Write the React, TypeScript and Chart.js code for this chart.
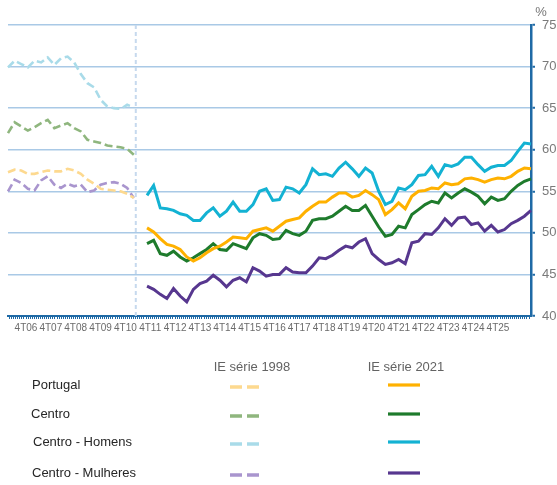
import React, { useEffect, useRef } from 'react';
import { Chart, registerables } from 'chart.js';

Chart.register(...registerables);

// ---------- data ----------
const YEARS = ['06', '07', '08', '09', '10', '11', '12', '13', '14', '15', '16', '17', '18', '19', '20', '21', '22', '23', '24', '25'];
const QUARTERS = YEARS.flatMap((y) => ['1', '2', '3', '4'].map((q) => `${q}T${y}`));
const TICK_LABELS = YEARS.map((y) => `4T${y}`);

const SERIES_NAMES = ['Portugal', 'Centro', 'Centro - Homens', 'Centro - Mulheres'];
const LEGEND_HEADERS = ['IE série 1998', 'IE série 2021'];

// IE série 1998 : 1T06 .. 4T10
const OLD_START = '1T06';
const PT_1998 = [57.3, 57.6, 57.5, 57.1, 57.1, 57.3, 57.5, 57.4, 57.4, 57.7, 57.5, 57.1, 56.4, 55.9, 55.3, 55.2, 55.1, 55.0, 54.7, 54.2];
const CENTRO_1998 = [62.0, 63.3, 62.8, 62.3, 62.7, 63.2, 63.6, 62.6, 62.9, 63.2, 62.6, 62.2, 61.2, 61.0, 60.8, 60.5, 60.4, 60.3, 60.1, 59.4];
const HOMENS_1998 = [69.9, 70.7, 70.3, 69.9, 70.7, 70.5, 71.1, 70.2, 71.0, 71.2, 70.5, 69.1, 68.0, 67.5, 66.0, 65.2, 65.0, 64.9, 65.4, 65.1];
const MULHERES_1998 = [55.0, 56.4, 56.0, 55.3, 55.1, 56.3, 56.8, 55.8, 55.4, 55.9, 55.6, 55.8, 54.9, 55.1, 55.8, 56.0, 56.1, 55.9, 55.4, 54.2];

// IE série 2021 : 2T11 .. 4T25
const NEW_START = '2T11';
const PT_2021 = [50.6, 50.1, 49.3, 48.6, 48.4, 48.0, 47.1, 46.6, 47.0, 47.6, 48.1, 48.4, 48.9, 49.5, 49.4, 49.3, 50.2, 50.4, 50.6, 50.2, 50.8, 51.4, 51.6, 51.8, 52.6, 53.2, 53.7, 53.7, 54.3, 54.8, 54.8, 54.3, 54.5, 55.1, 54.6, 54.0, 52.2, 52.8, 53.6, 52.9, 54.4, 55.0, 55.1, 55.4, 55.3, 56.0, 55.8, 55.9, 56.5, 56.6, 56.4, 56.1, 56.4, 56.6, 56.5, 56.8, 57.4, 57.8, 57.7];
const CENTRO_2021 = [48.7, 49.1, 47.5, 47.3, 47.8, 47.1, 46.6, 47.0, 47.5, 48.0, 48.7, 48.0, 47.9, 48.7, 48.4, 48.1, 49.4, 49.9, 49.7, 49.2, 49.3, 50.3, 49.9, 49.7, 50.2, 51.5, 51.7, 51.7, 52.0, 52.6, 53.2, 52.7, 52.7, 53.3, 52.0, 50.7, 49.6, 49.8, 50.8, 50.6, 52.2, 52.8, 53.4, 53.8, 53.6, 54.8, 54.2, 54.8, 55.3, 54.9, 54.4, 53.5, 54.3, 53.9, 54.1, 55.0, 55.7, 56.2, 56.5];
const HOMENS_2021 = [54.5, 55.7, 53.0, 52.9, 52.7, 52.3, 52.1, 51.5, 51.5, 52.4, 53.0, 52.0, 52.6, 53.7, 52.6, 52.6, 53.4, 55.0, 55.3, 53.9, 54.0, 55.5, 55.3, 54.8, 55.8, 57.7, 57.0, 57.1, 56.8, 57.8, 58.5, 57.7, 56.8, 57.8, 57.2, 55.0, 53.4, 53.8, 55.4, 55.2, 55.8, 56.9, 57.0, 58.0, 56.8, 58.2, 58.0, 58.3, 59.1, 59.1, 58.2, 57.4, 57.9, 58.1, 58.1, 58.7, 59.8, 60.8, 60.7];
const MULHERES_2021 = [43.6, 43.2, 42.6, 42.1, 43.3, 42.4, 41.7, 43.2, 43.9, 44.2, 44.9, 44.3, 43.5, 44.3, 44.6, 44.1, 45.8, 45.4, 44.8, 45.0, 45.0, 45.8, 45.3, 45.2, 45.2, 46.0, 47.0, 46.9, 47.3, 47.9, 48.4, 48.2, 48.9, 49.3, 47.5, 46.8, 46.2, 46.4, 46.8, 46.3, 48.8, 49.0, 49.9, 49.8, 50.6, 51.7, 50.9, 51.8, 51.9, 51.0, 51.2, 50.2, 50.9, 50.1, 50.4, 51.1, 51.5, 52.0, 52.7];

const BREAK_LABEL = '4T10';
const Y_MIN = 40;
const Y_MAX = 75;
const Y_STEP = 5;

// ---------- styles ----------
const OLD_COLORS = ['#fdd98f', '#8fb67e', '#a9dbe9', '#a995ce'];
const NEW_COLORS = ['#ffb100', '#1e7b2c', '#13b2d3', '#57378f'];
const AXIS_BLUE = '#1f6aa6';
const GRID_BLUE = '#a9c9e6';
const FONT = '"Liberation Sans", Arial, sans-serif';

function place(values: number[], start: string): (number | null)[] {
  const s = QUARTERS.indexOf(start);
  return QUARTERS.map((_, i) => (i >= s && i - s < values.length ? values[i - s] : null));
}

const OLD_SERIES = [PT_1998, CENTRO_1998, HOMENS_1998, MULHERES_1998];
const NEW_SERIES = [PT_2021, CENTRO_2021, HOMENS_2021, MULHERES_2021];

const overlayPlugin = {
  id: 'overlay',
  beforeDatasetsDraw(chart: any) {
    const { ctx, chartArea, scales } = chart;
    const x = scales.x.getPixelForValue(QUARTERS.indexOf(BREAK_LABEL)) + 2;
    ctx.save();
    ctx.strokeStyle = '#c6d9ee';
    ctx.lineWidth = 2;
    ctx.setLineDash([4, 3]);
    ctx.beginPath();
    ctx.moveTo(x, chartArea.top);
    ctx.lineTo(x, chartArea.bottom);
    ctx.stroke();
    ctx.restore();
  },
  afterDraw(chart: any) {
    const { ctx } = chart;
    ctx.save();
    // % unit
    ctx.font = `13px ${FONT}`;
    ctx.fillStyle = '#777777';
    ctx.textAlign = 'center';
    ctx.textBaseline = 'middle';
    ctx.fillText('%', 541, 12);

    // legend headers
    ctx.fillStyle = '#636363';
    ctx.fillText(LEGEND_HEADERS[0], 252, 367);
    ctx.fillText(LEGEND_HEADERS[1], 406, 367);

    const rowY = [385, 414, 442, 473];
    const labelX = [32, 31, 33, 32];
    ctx.textAlign = 'left';
    ctx.lineCap = 'butt';
    SERIES_NAMES.forEach((name, i) => {
      ctx.fillStyle = '#262626';
      ctx.fillText(name, labelX[i], rowY[i]);
      // dashed sample
      ctx.strokeStyle = OLD_COLORS[i];
      ctx.lineWidth = 3.5;
      ctx.beginPath();
      ctx.moveTo(230, rowY[i] + 2);
      ctx.lineTo(242, rowY[i] + 2);
      ctx.moveTo(247, rowY[i] + 2);
      ctx.lineTo(259, rowY[i] + 2);
      ctx.stroke();
      // solid sample
      ctx.strokeStyle = NEW_COLORS[i];
      ctx.lineWidth = 3.2;
      ctx.beginPath();
      ctx.moveTo(388, rowY[i]);
      ctx.lineTo(420, rowY[i]);
      ctx.stroke();
    });
    ctx.restore();
  },
};

export default function App() {
  const canvasRef = useRef<HTMLCanvasElement | null>(null);

  useEffect(() => {
    if (!canvasRef.current) return;
    const datasets: any[] = [];
    OLD_SERIES.forEach((vals, i) => {
      datasets.push({
        label: `${SERIES_NAMES[i]} 1998`,
        data: place(vals, OLD_START),
        borderColor: OLD_COLORS[i],
        borderWidth: 2.6,
        borderDash: [8, 4],
        pointRadius: 0,
        tension: 0,
        fill: false,
      });
    });
    NEW_SERIES.forEach((vals, i) => {
      datasets.push({
        label: `${SERIES_NAMES[i]} 2021`,
        data: place(vals, NEW_START),
        borderColor: NEW_COLORS[i],
        borderWidth: 3,
        pointRadius: 0,
        tension: 0,
        fill: false,
      });
    });

    const labelMin = -0.725;
    const labelMax = 20.33;

    const chart = new Chart(canvasRef.current, {
      type: 'line',
      data: { labels: QUARTERS, datasets },
      plugins: [overlayPlugin],
      options: {
        responsive: false,
        animation: false,
        events: [],
        layout: { padding: { left: 8, top: 25, right: 0, bottom: 139 } },
        plugins: { legend: { display: false }, tooltip: { enabled: false } },
        scales: {
          x: { type: 'category', display: false, offset: false },
          xl: {
            type: 'linear',
            position: 'bottom',
            min: labelMin,
            max: labelMax,
            afterBuildTicks: (scale: any) => {
              const t: any[] = [];
              for (let i = Math.ceil(labelMin * 12); i <= Math.floor(labelMax * 12); i++) t.push({ value: i / 12 });
              scale.ticks = t;
            },
            afterFit: (scale: any) => {
              scale.height = 30;
            },
            grid: {
              drawOnChartArea: false,
              drawTicks: true,
              tickLength: 3,
              color: AXIS_BLUE,
              tickColor: AXIS_BLUE,
              lineWidth: 1,
            },
            border: { display: true, color: AXIS_BLUE, width: 2 },
            ticks: {
              autoSkip: false,
              minRotation: 0,
              maxRotation: 0,
              padding: 3,
              color: '#6b6b6b',
              font: { family: FONT, size: 10 },
              callback: (value: any) => {
                const i = Math.round(Number(value) * 12);
                if (i % 12 === 0) {
                  const k = i / 12;
                  return k >= 0 && k < TICK_LABELS.length ? TICK_LABELS[k] : '';
                }
                return '';
              },
            },
          },
          y: {
            type: 'linear',
            position: 'right',
            min: Y_MIN,
            max: Y_MAX,
            afterFit: (scale: any) => {
              scale.width = 26;
            },
            grid: {
              color: GRID_BLUE,
              lineWidth: 1.5,
              drawTicks: true,
              tickLength: 4,
              tickColor: AXIS_BLUE,
              tickWidth: 2,
            },
            border: { display: true, color: AXIS_BLUE, width: 2.5 },
            ticks: {
              stepSize: Y_STEP,
              padding: 7,
              color: '#7a7a7a',
              font: { family: FONT, size: 13 },
            },
          },
        },
      } as any,
    });
    return () => chart.destroy();
  }, []);

  return (
    <div style={{ position: 'absolute', left: 0, top: 0, width: 557, height: 485, background: '#ffffff' }}>
      <canvas ref={canvasRef} width={557} height={485} style={{ display: 'block', width: 557, height: 485 }} />
    </div>
  );
}
